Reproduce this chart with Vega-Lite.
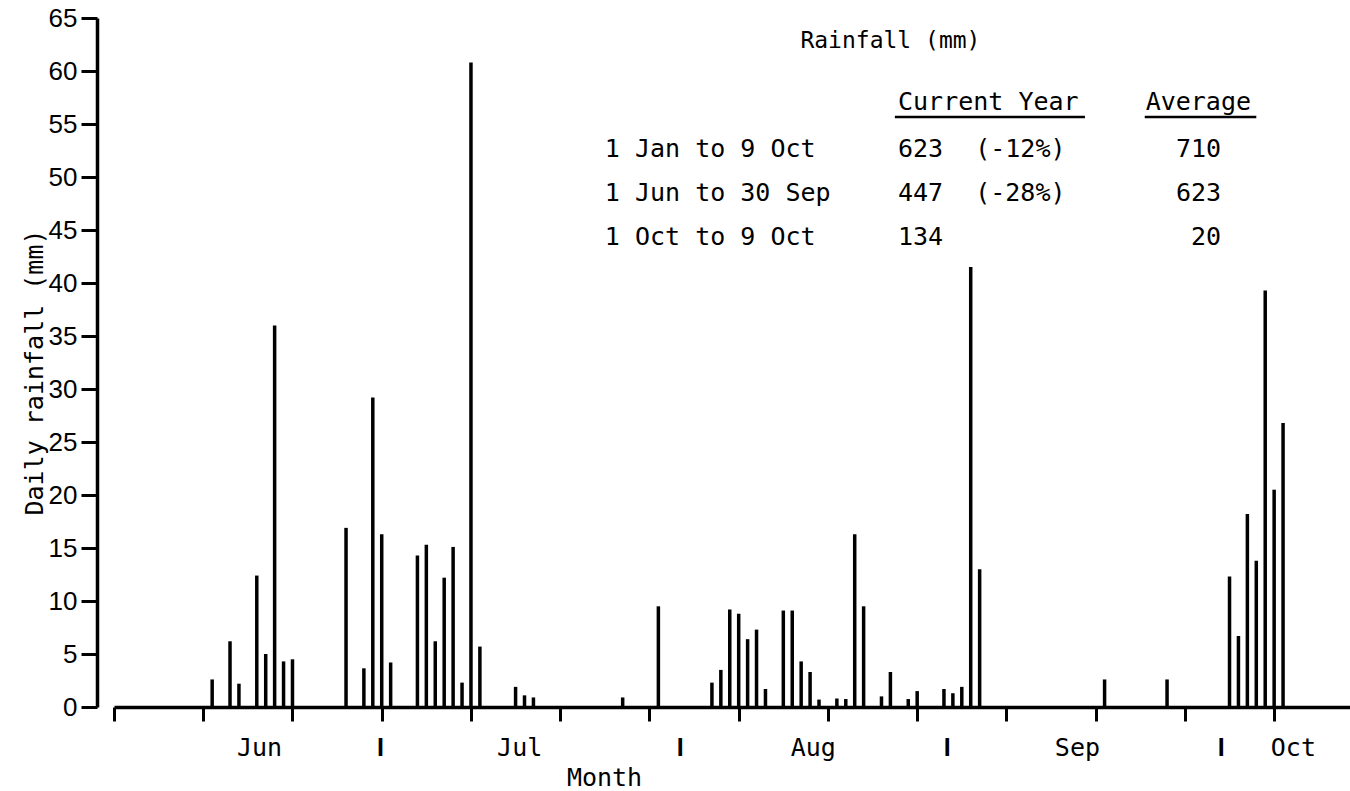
{
  "$schema": "https://vega.github.io/schema/vega-lite/v6.json",
  "width": 1236,
  "height": 689,
  "autosize": {"type": "none"},
  "padding": {"left": 114, "top": 18, "right": 0, "bottom": 84},
  "background": "white",
  "config": {
    "view": {"stroke": null},
    "axis": {"grid": false, "domainColor": "black", "tickColor": "black", "labelColor": "black", "titleColor": "black"}
  },
  "datasets": {
    "rain": [
      {"day": 11, "mm": 2.6}, {"day": 13, "mm": 6.2}, {"day": 14, "mm": 2.2}, {"day": 16, "mm": 12.4},
      {"day": 17, "mm": 5.0}, {"day": 18, "mm": 36.0}, {"day": 19, "mm": 4.3}, {"day": 20, "mm": 4.5},
      {"day": 26, "mm": 16.9}, {"day": 28, "mm": 3.65}, {"day": 29, "mm": 29.2}, {"day": 30, "mm": 16.3},
      {"day": 31, "mm": 4.2}, {"day": 34, "mm": 14.3}, {"day": 35, "mm": 15.3}, {"day": 36, "mm": 6.2},
      {"day": 37, "mm": 12.2}, {"day": 38, "mm": 15.1}, {"day": 39, "mm": 2.3}, {"day": 40, "mm": 60.8},
      {"day": 41, "mm": 5.7}, {"day": 45, "mm": 1.9}, {"day": 46, "mm": 1.1}, {"day": 47, "mm": 0.9},
      {"day": 57, "mm": 0.9}, {"day": 61, "mm": 9.5}, {"day": 67, "mm": 2.3}, {"day": 68, "mm": 3.5},
      {"day": 69, "mm": 9.2}, {"day": 70, "mm": 8.8}, {"day": 71, "mm": 6.4}, {"day": 72, "mm": 7.3},
      {"day": 73, "mm": 1.7}, {"day": 75, "mm": 9.1}, {"day": 76, "mm": 9.1}, {"day": 77, "mm": 4.3},
      {"day": 78, "mm": 3.3}, {"day": 79, "mm": 0.7}, {"day": 81, "mm": 0.8}, {"day": 82, "mm": 0.75},
      {"day": 83, "mm": 16.3}, {"day": 84, "mm": 9.5}, {"day": 86, "mm": 1.0}, {"day": 87, "mm": 3.3},
      {"day": 89, "mm": 0.75}, {"day": 90, "mm": 1.5}, {"day": 93, "mm": 1.7}, {"day": 94, "mm": 1.3},
      {"day": 95, "mm": 1.9}, {"day": 96, "mm": 41.5}, {"day": 97, "mm": 13.0}, {"day": 111, "mm": 2.6},
      {"day": 118, "mm": 2.6}, {"day": 125, "mm": 12.3}, {"day": 126, "mm": 6.7}, {"day": 127, "mm": 18.2},
      {"day": 128, "mm": 13.8}, {"day": 129, "mm": 39.3}, {"day": 130, "mm": 20.5}, {"day": 131, "mm": 26.8}
    ],
    "summary": [
      {"period": "1 Jan to 9 Oct", "current": 623, "change": "(-12%)", "average": 710},
      {"period": "1 Jun to 30 Sep", "current": 447, "change": "(-28%)", "average": 623},
      {"period": "1 Oct to 9 Oct", "current": 134, "average": 20}
    ]
  },
  "layer": [
    {
      "data": {"name": "rain"},
      "mark": {"type": "rule", "color": "black", "strokeWidth": 3.5, "strokeCap": "butt"},
      "encoding": {
        "x": {
          "field": "day", "type": "quantitative",
          "scale": {"domain": [0, 138.5], "nice": false, "zero": false},
          "axis": {
            "values": [0, 10, 20, 30, 40, 50, 60, 70, 80, 90, 100, 110, 120, 130, 16.25, 29.8, 45.4, 63.4, 78.3, 93.3, 107.9, 124, 132.1],
            "labelExpr": "datum.value == 16.25 ? 'Jun' : datum.value == 45.4 ? 'Jul' : datum.value == 78.3 ? 'Aug' : datum.value == 107.9 ? 'Sep' : datum.value == 132.1 ? 'Oct' : datum.value % 10 == 0 ? '' : 'I'",
            "tickOpacity": {"condition": {"test": "datum.value % 10 == 0", "value": 1}, "value": 0},
            "labelFont": {"condition": {"test": "datum.value == 29.8 || datum.value == 63.4 || datum.value == 93.3 || datum.value == 124", "value": "Liberation Sans"}, "value": "DejaVu Sans Mono"},
            "labelFontWeight": {"condition": {"test": "datum.value == 29.8 || datum.value == 63.4 || datum.value == 93.3 || datum.value == 124", "value": "bold"}, "value": "normal"},
            "labelFontSize": 25,
            "labelAlign": "center",
            "labelBaseline": "alphabetic",
            "labelPadding": 34,
            "labelOverlap": false,
            "labelFlush": false,
            "tickSize": 14,
            "tickWidth": 3,
            "domainWidth": 3.5,
            "title": "Month",
            "titleFont": "DejaVu Sans Mono",
            "titleFontSize": 25,
            "titleFontWeight": "normal",
            "titleX": 490,
            "titleY": 78,
            "titleAlign": "center",
            "titleBaseline": "alphabetic"
          }
        },
        "y": {
          "field": "mm", "type": "quantitative",
          "scale": {"domain": [0, 65], "nice": false},
          "axis": {
            "values": [0, 5, 10, 15, 20, 25, 30, 35, 40, 45, 50, 55, 60, 65],
            "offset": 17,
            "tickSize": 16,
            "tickWidth": 3,
            "domainWidth": 3.5,
            "labelFont": "Liberation Sans",
            "labelFontSize": 26,
            "labelPadding": 4,
            "labelBaseline": "middle",
            "title": "Daily rainfall (mm)",
            "titleFont": "DejaVu Sans Mono",
            "titleFontSize": 25,
            "titleFontWeight": "normal",
            "titleAngle": 270,
            "titleX": -55,
            "titleY": 354,
            "titleAlign": "center",
            "titleBaseline": "alphabetic"
          }
        },
        "y2": {"datum": 0}
      }
    },
    {
      "data": {"values": [{}]},
      "mark": {"type": "text", "text": "Rainfall (mm)", "font": "DejaVu Sans Mono", "fontSize": 23, "align": "center", "baseline": "alphabetic", "color": "black"},
      "encoding": {
        "x": {"datum": 87.0, "type": "quantitative"},
        "y": {"datum": 62.17, "type": "quantitative"}
      }
    },
    {
      "data": {"values": [{}]},
      "mark": {"type": "text", "text": "Current Year", "font": "DejaVu Sans Mono", "fontSize": 25, "align": "left", "baseline": "alphabetic", "color": "black"},
      "encoding": {
        "x": {"datum": 87.85, "type": "quantitative"},
        "y": {"datum": 56.32, "type": "quantitative"}
      }
    },
    {
      "data": {"values": [{}]},
      "mark": {"type": "text", "text": "Average", "font": "DejaVu Sans Mono", "fontSize": 25, "align": "left", "baseline": "alphabetic", "color": "black"},
      "encoding": {
        "x": {"datum": 115.6, "type": "quantitative"},
        "y": {"datum": 56.32, "type": "quantitative"}
      }
    },
    {
      "data": {"values": [{}]},
      "mark": {"type": "rule", "color": "black", "strokeWidth": 2.5},
      "encoding": {
        "x": {"datum": 87.5, "type": "quantitative"},
        "x2": {"datum": 108.8},
        "y": {"datum": 55.66, "type": "quantitative"}
      }
    },
    {
      "data": {"values": [{}]},
      "mark": {"type": "rule", "color": "black", "strokeWidth": 2.5},
      "encoding": {
        "x": {"datum": 115.5, "type": "quantitative"},
        "x2": {"datum": 128.0},
        "y": {"datum": 55.66, "type": "quantitative"}
      }
    },
    {
      "data": {"name": "summary"},
      "mark": {"type": "text", "font": "DejaVu Sans Mono", "fontSize": 25, "align": "left", "baseline": "alphabetic", "color": "black"},
      "encoding": {
        "x": {"datum": 55.0, "type": "quantitative"},
        "y": {"datum": 51.9, "type": "quantitative"},
        "yOffset": {"field": "period", "type": "nominal", "scale": {"type": "point", "domain": ["1 Jan to 9 Oct", "1 Jun to 30 Sep", "1 Oct to 9 Oct"], "range": [0, 88], "padding": 0}},
        "text": {"field": "period", "type": "nominal"}
      }
    },
    {
      "data": {"name": "summary"},
      "mark": {"type": "text", "font": "DejaVu Sans Mono", "fontSize": 25, "align": "left", "baseline": "alphabetic", "color": "black"},
      "encoding": {
        "x": {"datum": 87.85, "type": "quantitative"},
        "y": {"datum": 51.9, "type": "quantitative"},
        "yOffset": {"field": "period", "type": "nominal", "scale": {"type": "point", "domain": ["1 Jan to 9 Oct", "1 Jun to 30 Sep", "1 Oct to 9 Oct"], "range": [0, 88], "padding": 0}},
        "text": {"field": "current", "type": "quantitative"}
      }
    },
    {
      "data": {"name": "summary"},
      "transform": [{"filter": "isValid(datum.change)"}],
      "mark": {"type": "text", "font": "DejaVu Sans Mono", "fontSize": 25, "align": "left", "baseline": "alphabetic", "color": "black"},
      "encoding": {
        "x": {"datum": 96.5, "type": "quantitative"},
        "y": {"datum": 51.9, "type": "quantitative"},
        "yOffset": {"field": "period", "type": "nominal", "scale": {"type": "point", "domain": ["1 Jan to 9 Oct", "1 Jun to 30 Sep", "1 Oct to 9 Oct"], "range": [0, 88], "padding": 0}},
        "text": {"field": "change", "type": "nominal"}
      }
    },
    {
      "data": {"name": "summary"},
      "mark": {"type": "text", "font": "DejaVu Sans Mono", "fontSize": 25, "align": "right", "baseline": "alphabetic", "color": "black"},
      "encoding": {
        "x": {"datum": 124.05, "type": "quantitative"},
        "y": {"datum": 51.9, "type": "quantitative"},
        "yOffset": {"field": "period", "type": "nominal", "scale": {"type": "point", "domain": ["1 Jan to 9 Oct", "1 Jun to 30 Sep", "1 Oct to 9 Oct"], "range": [0, 88], "padding": 0}},
        "text": {"field": "average", "type": "quantitative"}
      }
    }
  ]
}
